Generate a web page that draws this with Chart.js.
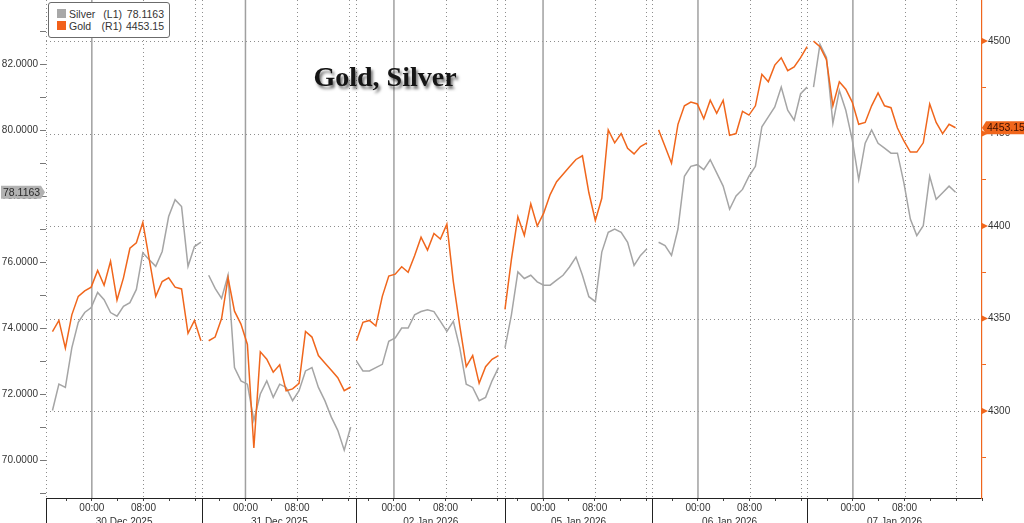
<!DOCTYPE html>
<html>
<head>
<meta charset="utf-8">
<title>Gold, Silver</title>
<script src="https://cdn.jsdelivr.net/npm/chart.js@4/dist/chart.umd.min.js"></script>
<style>
  body { margin: 0; background: #fff; }
  #wrap { position: relative; width: 1024px; height: 523px; overflow: hidden; }
  #title {
    position: absolute; left: 385px; top: 63px; transform: translateX(-50%);
    font: bold 28px "Liberation Serif", "DejaVu Serif", serif; line-height: 28px;
    color: #151515; text-shadow: 2px 3px 3px rgba(0, 0, 0, 0.55); white-space: nowrap;
  }
  #legend {
    position: absolute; left: 48px; top: 2px; width: 122px; height: 36px; box-sizing: border-box;
    border: 1px solid #6b6b6b; border-radius: 3px; background: #fff;
    font: 10.5px "Liberation Sans", Arial, sans-serif; color: #333; line-height: 12px;
  }
  #legend span { position: absolute; white-space: nowrap; }
  #legend .sw { width: 9px; height: 9px; left: 8px; }
</style>
</head>
<body>
<div id="wrap">
  <canvas id="chart" width="1024" height="523"></canvas>
  <div id="title">Gold, Silver</div>
  <div id="legend">
    <span class="sw" style="top:6px;background:#a8a8a8"></span>
    <span style="left:20px;top:5px">Silver</span>
    <span style="right:47px;top:5px">(L1)</span>
    <span id="silverLast" style="right:5px;top:5px"></span>
    <span class="sw" style="top:18px;background:#f2601a"></span>
    <span style="left:20px;top:17px">Gold</span>
    <span style="right:47px;top:17px">(R1)</span>
    <span id="goldLast" style="right:5px;top:17px"></span>
  </div>
</div>
<script>
// trading sessions shown on the axis
const sessionLabels = ["30 Dec 2025", "31 Dec 2025", "02 Jan 2026", "05 Jan 2026", "06 Jan 2026", "07 Jan 2026"];
const hoursBeforeMidnight = [7.1, 6.7, 5.8, 5.9, 7.1, 7.1];
const hoursAfterMidnight = [17.1, 17.2, 17.2, 16.9, 16.9, 20];

// hourly readings from each session's open (null = no trade yet)
const silver = [
  [null, 71.5, 72.3, 72.2, 73.4, 74.17, 74.47, 74.62, 75.08, 74.86, 74.47, 74.36, 74.66, 74.77, 75.17, 76.28, 76.07, 75.87, 76.32, 77.38, 77.89, 77.68, 75.87, 76.47, 76.6],
  [null, 75.6, 75.2, 74.9, 75.6, 72.8, 72.4, 72.3, 71.2, 72.0, 72.4, 71.9, 72.3, 72.2, 71.8, 72.1, 72.7, 72.8, 72.2, 71.8, 71.3, 70.9, 70.3, 71.0],
  [73.0, 72.7, 72.7, 72.8, 72.9, 73.6, 73.7, 74.0, 74.0, 74.4, 74.5, 74.55, 74.5, 74.2, 73.9, 74.2, 73.4, 72.3, 72.2, 71.8, 71.9, 72.4, 72.8],
  [73.4, 74.4, 75.7, 75.5, 75.6, 75.4, 75.3, 75.3, 75.45, 75.6, 75.85, 76.15, 75.6, 74.95, 74.8, 76.3, 76.9, 77.0, 76.9, 76.6, 75.9, 76.2, 76.4],
  [null, 76.6, 76.5, 76.2, 77.0, 78.6, 78.9, 78.95, 78.8, 79.1, 78.7, 78.3, 77.6, 78.0, 78.2, 78.6, 78.9, 80.1, 80.4, 80.7, 81.3, 80.6, 80.3, 81.1, 81.3],
  [null, 81.3, 82.6, 82.2, 80.2, 81.2, 80.6, 79.7, 78.5, 79.6, 80.0, 79.6, 79.45, 79.3, 79.3, 78.4, 77.3, 76.8, 77.1, 78.6, 77.9, 78.1, 78.3, 78.1163]
];
const gold = [
  [null, 4343, 4349, 4334, 4352, 4362, 4365, 4367, 4376, 4368, 4381, 4360, 4372, 4388, 4391, 4402, 4382, 4362, 4370, 4372, 4367, 4366, 4342, 4349, 4338],
  [null, 4338, 4340, 4350, 4372, 4354, 4347, 4336, 4280, 4332, 4328, 4321, 4325, 4311, 4312, 4315, 4343, 4340, 4330, 4326, 4322, 4318, 4311, 4313],
  [4338, 4348, 4349, 4346, 4362, 4373, 4374, 4378, 4375, 4384, 4394, 4387, 4396, 4393, 4401, 4370, 4346, 4324, 4330, 4315, 4324, 4328, 4330],
  [4355, 4382, 4405, 4395, 4412, 4400, 4407, 4417, 4424, 4428, 4432, 4436, 4438, 4418, 4403, 4415, 4452, 4445, 4450, 4442, 4439, 4443, 4445],
  [null, 4452, 4443, 4434, 4455, 4465, 4467, 4466, 4458, 4468, 4461, 4468, 4449, 4450, 4462, 4460, 4465, 4482, 4478, 4487, 4491, 4484, 4486, 4491, 4497],
  [null, 4500, 4497, 4490, 4465, 4478, 4474, 4467, 4455, 4456, 4465, 4472, 4465, 4464, 4453, 4446, 4440, 4440, 4445, 4466, 4456, 4450, 4455, 4453.15]
];

const silverTickLabels = [70, 72, 74, 76, 78, 80, 82];
const goldTickLabels = [4300, 4350, 4400, 4450, 4500];

const SILVER = "#a5a5a5";
const GOLD = "#f0661c";
const tickFont = { family: "Liberation Sans", size: 10 };

const sessionStart = [];
const sessionLen = [];
let total = 0;
sessionLabels.forEach((_, i) => {
  sessionStart.push(total);
  sessionLen.push(hoursBeforeMidnight[i] + hoursAfterMidnight[i]);
  total += sessionLen[i];
});

const toPoints = (series) => {
  const pts = [];
  series.forEach((day, i) => {
    day.forEach((v, k) => pts.push({ x: sessionStart[i] + k, y: v }));
    pts.push({ x: sessionStart[i] + day.length - 0.5, y: null });
  });
  return pts;
};

const lastSilver = silver[silver.length - 1].at(-1);
const lastGold = gold[gold.length - 1].at(-1);
document.getElementById("silverLast").textContent = lastSilver.toFixed(4);
document.getElementById("goldLast").textContent = lastGold.toFixed(2);

// 4-hourly time ticks, labelled at 00:00 and 08:00
const hourTicks = [];
sessionLabels.forEach((_, i) => {
  const mid = sessionStart[i] + hoursBeforeMidnight[i];
  for (let h = -8; h <= 24; h += 4) {
    const v = mid + h;
    if (v > sessionStart[i] + 0.01 && v <= sessionStart[i] + sessionLen[i] + 0.01) {
      hourTicks.push({ value: v, tag: h === 0 ? "00:00" : h === 8 ? "08:00" : "" });
    }
  }
});

const noPad = (s) => { s.paddingTop = 0; s.paddingBottom = 0; s.paddingLeft = 0; s.paddingRight = 0; };

const bbgDecor = {
  id: "bbgDecor",
  beforeDatasetsDraw(chart) {
    const { ctx, chartArea: a, scales } = chart;
    const x = scales.x;
    const line = (x1, y1, x2, y2) => { ctx.beginPath(); ctx.moveTo(x1, y1); ctx.lineTo(x2, y2); ctx.stroke(); };
    const snap = (v) => Math.round(v) + 0.5;
    ctx.save();
    ctx.strokeStyle = "#8d8d8d";
    ctx.lineWidth = 1;
    ctx.setLineDash([1, 3]);
    goldTickLabels.forEach((v) => {
      const py = snap(scales.yGold.getPixelForValue(v));
      line(a.left, py, a.right, py);
    });
    line(snap(a.left), a.top, snap(a.left), a.bottom);
    sessionLabels.forEach((_, i) => {
      const mid = sessionStart[i] + hoursBeforeMidnight[i];
      [8, 16].forEach((h) => {
        if (h <= hoursAfterMidnight[i]) {
          const px = snap(x.getPixelForValue(mid + h));
          line(px, a.top, px, a.bottom);
        }
      });
      if (i > 0) {
        const px = snap(x.getPixelForValue(sessionStart[i]));
        line(px, a.top, px, a.bottom);
      }
    });
    ctx.setLineDash([]);
    ctx.strokeStyle = "#a0a0a0";
    ctx.lineWidth = 1.5;
    sessionLabels.forEach((_, i) => {
      const px = x.getPixelForValue(sessionStart[i] + hoursBeforeMidnight[i]);
      line(px, a.top, px, a.bottom);
    });
    ctx.restore();
  },
  afterDraw(chart) {
    const { ctx, chartArea: a, scales } = chart;
    ctx.save();
    // session separators under the time axis
    ctx.strokeStyle = "#222";
    ctx.lineWidth = 1;
    sessionLabels.forEach((_, i) => {
      const px = Math.round(scales.x.getPixelForValue(sessionStart[i])) + 0.5;
      ctx.beginPath(); ctx.moveTo(px, a.bottom); ctx.lineTo(px, chart.height); ctx.stroke();
    });
    // right axis arrow heads
    ctx.fillStyle = GOLD;
    goldTickLabels.forEach((v) => {
      const py = scales.yGold.getPixelForValue(v);
      ctx.beginPath(); ctx.moveTo(a.right, py - 3); ctx.lineTo(a.right + 6, py); ctx.lineTo(a.right, py + 3); ctx.fill();
    });
    ctx.font = "10.5px 'Liberation Sans', Arial, sans-serif";
    ctx.textBaseline = "middle";
    ctx.textAlign = "left";
    // last silver value on left axis
    let py = scales.y.getPixelForValue(lastSilver);
    ctx.fillStyle = "#b2b2b2";
    ctx.beginPath();
    ctx.moveTo(1, py - 6.5); ctx.lineTo(41, py - 6.5); ctx.lineTo(45, py); ctx.lineTo(41, py + 6.5); ctx.lineTo(1, py + 6.5);
    ctx.closePath(); ctx.fill();
    ctx.fillStyle = "#2a2a2a";
    ctx.fillText(lastSilver.toFixed(4), 3, py + 0.5);
    // last gold value on right axis
    py = scales.yGold.getPixelForValue(lastGold);
    ctx.fillStyle = GOLD;
    ctx.beginPath();
    ctx.moveTo(a.right, py); ctx.lineTo(a.right + 4, py - 6.5); ctx.lineTo(chart.width, py - 6.5);
    ctx.lineTo(chart.width, py + 6.5); ctx.lineTo(a.right + 4, py + 6.5);
    ctx.closePath(); ctx.fill();
    ctx.fillStyle = "#3b0f00";
    ctx.fillText(lastGold.toFixed(2), a.right + 5, py + 0.5);
    ctx.restore();
  }
};

new Chart(document.getElementById("chart"), {
  type: "line",
  data: {
    datasets: [
      {
        label: "Gold (R1)",
        data: toPoints(gold),
        yAxisID: "yGold",
        borderColor: GOLD,
        borderWidth: 1.5,
        pointRadius: 0,
        tension: 0,
        spanGaps: false,
      },
      {
        label: "Silver (L1)",
        data: toPoints(silver),
        yAxisID: "y",
        borderColor: SILVER,
        borderWidth: 1.5,
        pointRadius: 0,
        tension: 0,
        spanGaps: false,
      },
    ],
  },
  options: {
    responsive: false,
    animation: false,
    devicePixelRatio: 1,
    layout: { padding: 0 },
    plugins: { legend: { display: false }, tooltip: { enabled: false } },
    scales: {
      x: {
        type: "linear",
        position: "bottom",
        weight: 0,
        min: 0,
        max: total,
        afterBuildTicks: (s) => { s.ticks = hourTicks.map((t) => ({ ...t })); },
        ticks: {
          autoSkip: false, maxRotation: 0, padding: 1, color: "#333", font: tickFont,
          callback: (v, i, ticks) => ticks[i].tag,
        },
        grid: { drawOnChartArea: false, tickLength: 3, tickColor: "#444" },
        border: { color: "#222", width: 1 },
        afterFit: (s) => { s.height = 16; noPad(s); },
      },
      x2: {
        type: "linear",
        position: "bottom",
        weight: 1,
        min: 0,
        max: total,
        afterBuildTicks: (s) => {
          s.ticks = sessionLabels.map((lab, i) => ({ value: sessionStart[i] + sessionLen[i] / 2, tag: lab }));
        },
        ticks: {
          autoSkip: false, maxRotation: 0, padding: 2, color: "#333", font: tickFont,
          callback: (v, i, ticks) => ticks[i].tag,
        },
        grid: { display: false, drawTicks: false },
        border: { display: false },
        afterFit: (s) => { s.height = 9; noPad(s); },
      },
      y: {
        position: "left",
        min: 68.85,
        max: 83.94,
        afterBuildTicks: (s) => {
          const t = [];
          for (let v = Math.ceil(s.min); v <= s.max; v++) t.push({ value: v });
          s.ticks = t;
        },
        ticks: {
          autoSkip: false, padding: 2, color: "#333", font: tickFont,
          callback: (v) => (silverTickLabels.includes(v) ? v.toFixed(4) : ""),
        },
        grid: { drawOnChartArea: false, tickLength: 6, tickColor: "#777" },
        border: { display: false },
        afterFit: (s) => { s.width = 46; noPad(s); },
      },
      yGold: {
        position: "right",
        min: 4253,
        max: 4522.2,
        afterBuildTicks: (s) => {
          const t = [];
          for (let v = 4275; v <= s.max; v += 25) t.push({ value: v });
          s.ticks = t;
        },
        ticks: {
          autoSkip: false, padding: 2, color: "#333", font: tickFont,
          callback: (v) => (goldTickLabels.includes(v) ? String(v) : ""),
        },
        grid: { drawOnChartArea: false, tickLength: 4, tickColor: GOLD },
        border: { color: GOLD, width: 1.2 },
        afterFit: (s) => { s.width = 42; noPad(s); },
      },
    },
  },
  plugins: [bbgDecor],
});
</script>
</body>
</html>
